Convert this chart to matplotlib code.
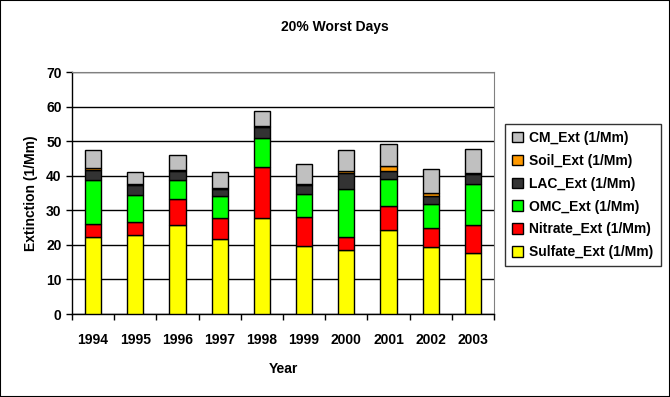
import matplotlib
matplotlib.use('Agg')
import matplotlib.pyplot as plt
import numpy as np
from matplotlib.patches import Rectangle

plt.rcParams['font.family'] = ['Liberation Sans', 'DejaVu Sans']
plt.rcParams['font.weight'] = 'bold'

years = ['1994', '1995', '1996', '1997', '1998', '1999', '2000', '2001', '2002', '2003']
sulfate = [22.4, 22.9, 25.8, 21.7, 27.8, 19.7, 18.5, 24.3, 19.5, 17.7]
nitrate = [3.5, 3.7, 7.6, 6.2, 14.6, 8.5, 3.9, 7.0, 5.5, 8.0]
omc = [12.9, 7.8, 5.4, 6.1, 8.5, 6.5, 13.8, 7.8, 6.8, 11.9]
lac = [2.9, 2.9, 2.7, 2.3, 3.3, 2.5, 4.5, 2.4, 2.3, 2.9]
soil = [0.6, 0.3, 0.1, 0.1, 0.1, 0.4, 0.6, 1.3, 0.8, 0.3]
cm = [5.1, 3.4, 4.3, 4.6, 4.3, 5.7, 6.1, 6.3, 7.0, 6.8]

series = [
    ('Sulfate_Ext (1/Mm)', sulfate, '#ffff00'),
    ('Nitrate_Ext (1/Mm)', nitrate, '#ff0000'),
    ('OMC_Ext (1/Mm)', omc, '#00ff00'),
    ('LAC_Ext (1/Mm)', lac, '#333333'),
    ('Soil_Ext (1/Mm)', soil, '#ff9900'),
    ('CM_Ext (1/Mm)', cm, '#c0c0c0'),
]

fig = plt.figure(figsize=(6.7, 3.97), dpi=100)
ax = fig.add_axes([72/670, 1-314/397, (494-72)/670, (314-72)/397])

x = np.arange(len(years))
bottom = np.zeros(len(years))
handles = []
for name, vals, col in series:
    b = ax.bar(x, vals, width=0.38, bottom=bottom, color=col, edgecolor='black',
               linewidth=1.0, label=name, zorder=3)
    handles.append(b)
    bottom = bottom + np.array(vals)

ax.set_xlim(-0.5, len(years) - 0.5)
ax.set_ylim(0, 70)
ax.set_yticks(range(0, 71, 10))
ax.set_xticks(x)
ax.set_xticklabels(years)
ax.set_xticks(np.arange(-0.5, len(years), 1), minor=True)
ax.tick_params(axis='x', which='major', length=0, pad=13.5, labelsize=10)
ax.tick_params(axis='x', which='minor', length=4, width=1, direction='out')
ax.tick_params(axis='y', length=4, width=1, direction='out', labelsize=10)
ax.yaxis.grid(True, color='black', linewidth=1, zorder=0)
ax.set_axisbelow(True)

for s in ['top', 'right']:
    ax.spines[s].set_color('#808080')
for s in ['left', 'bottom']:
    ax.spines[s].set_color('black')
    ax.spines[s].set_linewidth(1)

ax.set_xlabel('Year', fontsize=10, fontweight='bold', labelpad=11)
ax.set_ylabel('Extinction (1/Mm)', fontsize=10, fontweight='bold', labelpad=6)
fig.text(335/670, 1-27/397, '20% Worst Days', ha='center', va='center',
         fontsize=10, fontweight='bold')

leg = fig.legend(handles[::-1], [s[0] for s in series][::-1],
                 loc='upper left', bbox_to_anchor=(505/670, 1-124/397),
                 frameon=True, fancybox=False, edgecolor='black',
                 fontsize=10, handlelength=0.8, handleheight=0.8,
                 handletextpad=0.45, labelspacing=0.64, borderpad=0.5,
                 borderaxespad=0)
leg.get_frame().set_linewidth(1)

fig.patches.append(Rectangle((0, 0), 1, 1, transform=fig.transFigure,
                             fill=False, edgecolor='black', linewidth=1.5))

fig.savefig('out.png', dpi=100)
